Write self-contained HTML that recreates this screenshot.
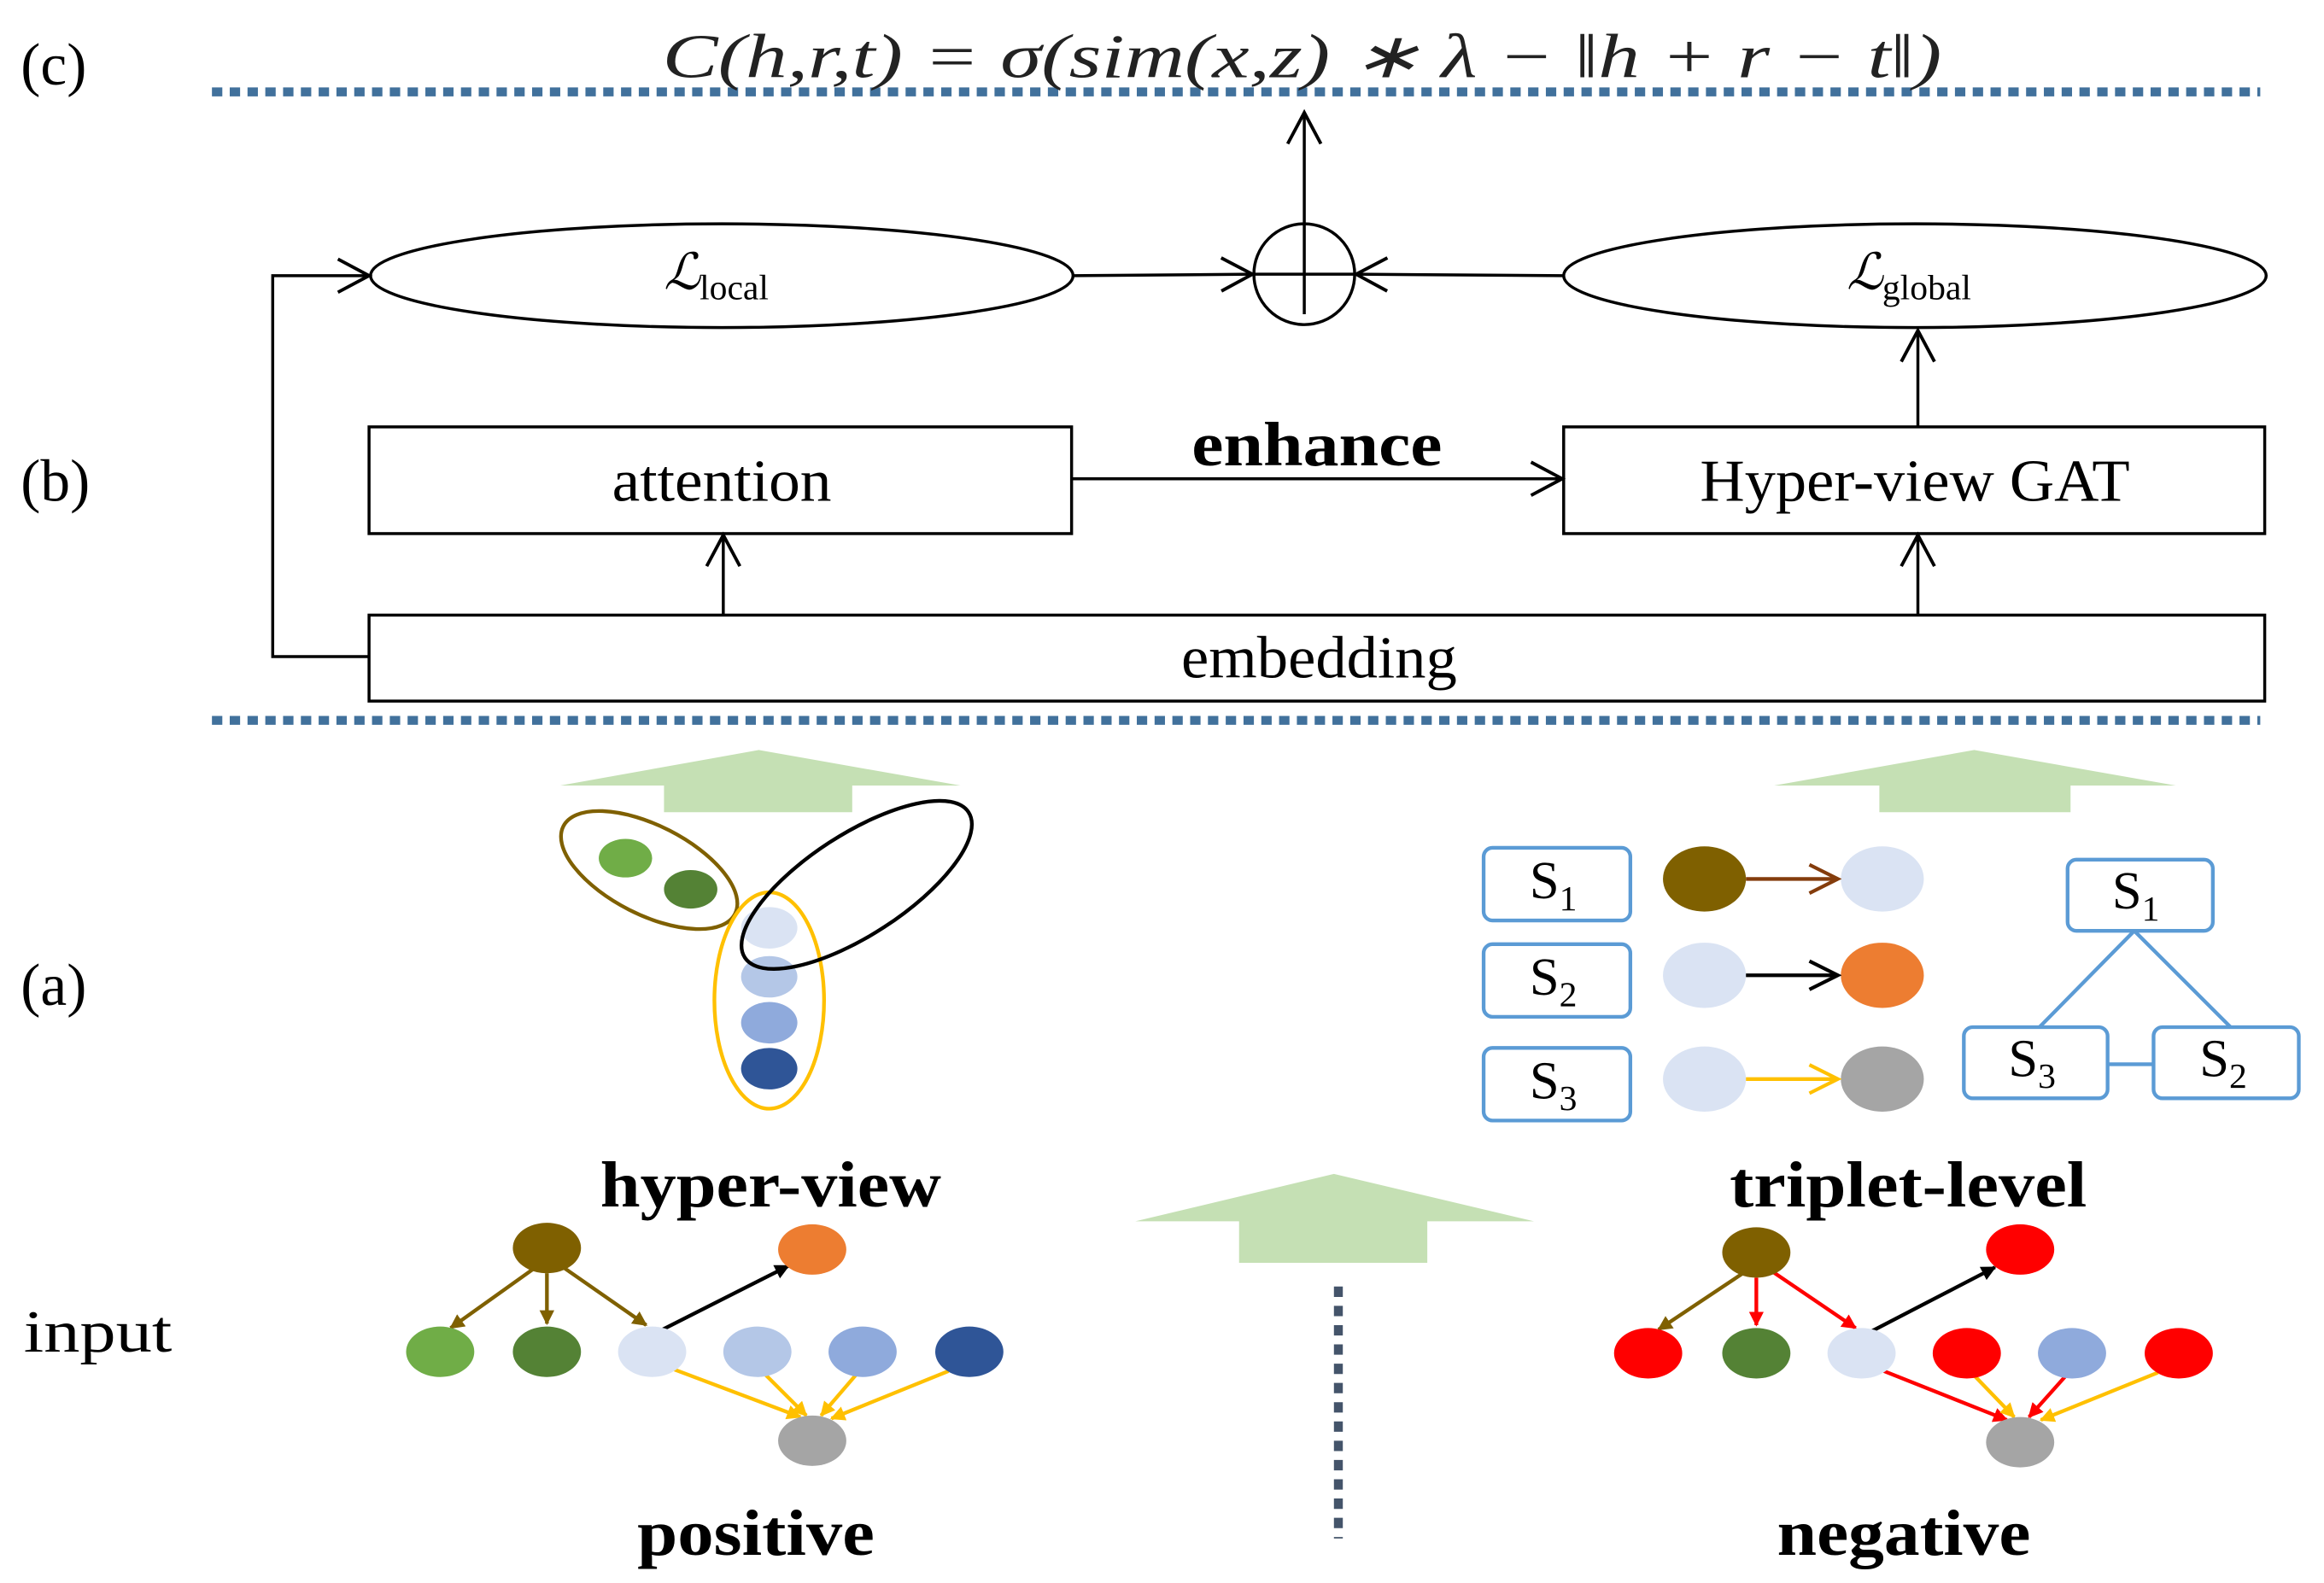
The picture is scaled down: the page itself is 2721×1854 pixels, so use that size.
<!DOCTYPE html>
<html><head><meta charset="utf-8"><style>
html,body{margin:0;padding:0;background:#fff;}
svg{display:block;}
text{font-family:"Liberation Serif",serif;}
</style></head><body>
<svg width="2721" height="1854" viewBox="0 0 1568 1068" preserveAspectRatio="none" xmlns="http://www.w3.org/2000/svg">
<defs>
<marker id="ak" viewBox="0 0 20 20" refX="18" refY="10" markerWidth="28" markerHeight="28" markerUnits="userSpaceOnUse" orient="auto"><path d="M3,2 L18,10 L3,18" fill="none" stroke="#000" stroke-width="1.6"/></marker>
<marker id="smb" viewBox="0 0 10 10" refX="9" refY="5" markerWidth="10" markerHeight="10" markerUnits="userSpaceOnUse" orient="auto"><path d="M0,0 L10,5 L0,10 z" fill="#000"/></marker>
<marker id="smbr" viewBox="0 0 10 10" refX="9" refY="5" markerWidth="10" markerHeight="10" markerUnits="userSpaceOnUse" orient="auto"><path d="M0,0 L10,5 L0,10 z" fill="#7f6000"/></marker>
<marker id="smy" viewBox="0 0 10 10" refX="9" refY="5" markerWidth="10" markerHeight="10" markerUnits="userSpaceOnUse" orient="auto"><path d="M0,0 L10,5 L0,10 z" fill="#ffc000"/></marker>
<marker id="smr" viewBox="0 0 10 10" refX="9" refY="5" markerWidth="10" markerHeight="10" markerUnits="userSpaceOnUse" orient="auto"><path d="M0,0 L10,5 L0,10 z" fill="#ff0000"/></marker>
<marker id="tb" viewBox="0 0 20 20" refX="18" refY="10" markerWidth="24" markerHeight="24" markerUnits="userSpaceOnUse" orient="auto"><path d="M2,2 L18,10 L2,18" fill="none" stroke="#000" stroke-width="2"/></marker>
<marker id="tbr" viewBox="0 0 20 20" refX="18" refY="10" markerWidth="24" markerHeight="24" markerUnits="userSpaceOnUse" orient="auto"><path d="M2,2 L18,10 L2,18" fill="none" stroke="#843c0c" stroke-width="2"/></marker>
<marker id="ty" viewBox="0 0 20 20" refX="18" refY="10" markerWidth="24" markerHeight="24" markerUnits="userSpaceOnUse" orient="auto"><path d="M2,2 L18,10 L2,18" fill="none" stroke="#ffc000" stroke-width="2"/></marker>
</defs>

<line x1="143" y1="62" x2="1525" y2="62" stroke="#41719c" stroke-width="6" stroke-dasharray="7,5"/>
<line x1="143" y1="486" x2="1525" y2="486" stroke="#41719c" stroke-width="6" stroke-dasharray="7,5"/>

<text x="14" y="57" font-size="40">(c)</text>
<text x="14" y="338" font-size="40">(b)</text>
<text x="14" y="678" font-size="40">(a)</text>
<text x="16" y="912" font-size="40" textLength="100" lengthAdjust="spacingAndGlyphs">input</text>

<text x="447" y="52" font-size="42" font-style="italic" fill="#222" textLength="863" lengthAdjust="spacingAndGlyphs">C(h,r,t) = σ(sim(x,z) ∗ λ − ‖h + r − t‖)</text>

<ellipse cx="487" cy="186" rx="237" ry="35" fill="#fff" stroke="#000" stroke-width="2"/>
<text x="448" y="195" font-size="34" font-style="italic">ℒ</text><text x="472" y="202" font-size="24">local</text>
<ellipse cx="1292" cy="186" rx="237" ry="35" fill="#fff" stroke="#000" stroke-width="2"/>
<text x="1246" y="195" font-size="34" font-style="italic">ℒ</text><text x="1270" y="202" font-size="24">global</text>
<circle cx="880" cy="185" r="34" fill="#fff" stroke="#000" stroke-width="2"/>
<line x1="846" y1="185" x2="914" y2="185" stroke="#000" stroke-width="2"/>
<line x1="880" y1="151" x2="880" y2="212" stroke="#000" stroke-width="2"/>
<line x1="880" y1="151" x2="880" y2="76" stroke="#000" stroke-width="2" marker-end="url(#ak)"/>
<line x1="724" y1="186" x2="845" y2="185" stroke="#000" stroke-width="2" marker-end="url(#ak)"/>
<line x1="1055" y1="186" x2="915" y2="185" stroke="#000" stroke-width="2" marker-end="url(#ak)"/>

<rect x="249" y="288" width="474" height="72" fill="#fff" stroke="#000" stroke-width="2"/>
<text x="413" y="338" font-size="40" textLength="148" lengthAdjust="spacingAndGlyphs">attention</text>
<rect x="1055" y="288" width="473" height="72" fill="#fff" stroke="#000" stroke-width="2"/>
<text x="1147" y="338" font-size="40" textLength="290" lengthAdjust="spacingAndGlyphs">Hyper-view GAT</text>
<rect x="249" y="415" width="1279" height="58" fill="#fff" stroke="#000" stroke-width="2"/>
<text x="797" y="457" font-size="40" textLength="186" lengthAdjust="spacingAndGlyphs">embedding</text>
<line x1="723" y1="323" x2="1054" y2="323" stroke="#000" stroke-width="2" marker-end="url(#ak)"/>
<text x="804" y="314" font-size="42" font-weight="bold" textLength="169" lengthAdjust="spacingAndGlyphs">enhance</text>
<line x1="488" y1="415" x2="488" y2="361" stroke="#000" stroke-width="2" marker-end="url(#ak)"/>
<line x1="1294" y1="415" x2="1294" y2="361" stroke="#000" stroke-width="2" marker-end="url(#ak)"/>
<line x1="1294" y1="288" x2="1294" y2="223" stroke="#000" stroke-width="2" marker-end="url(#ak)"/>
<polyline points="249,443 184,443 184,186 249,186" fill="none" stroke="#000" stroke-width="2" marker-end="url(#ak)"/>

<polygon points="378,530 512,506 648,530 575,530 575,548 448,548 448,530" fill="#c5e0b4"/>
<polygon points="1197,530 1332,506 1468,530 1397,530 1397,548 1268,548 1268,530" fill="#c5e0b4"/>
<polygon points="766,824 900,792 1035,824 963,824 963,852 836,852 836,824" fill="#c5e0b4"/>
<line x1="903" y1="868" x2="903" y2="1038" stroke="#44546a" stroke-width="6" stroke-dasharray="7,6"/>

<ellipse cx="438" cy="587" rx="65" ry="30" transform="rotate(27 438 587)" fill="none" stroke="#7f6000" stroke-width="2.5"/>
<ellipse cx="422" cy="579" rx="18" ry="13" fill="#70ad47"/>
<ellipse cx="466" cy="600" rx="18" ry="13" fill="#548235"/>
<ellipse cx="519" cy="675" rx="37" ry="73" fill="none" stroke="#ffc000" stroke-width="2.5"/>
<ellipse cx="519" cy="626" rx="19" ry="14" fill="#dae3f3"/>
<ellipse cx="519" cy="659" rx="19" ry="14" fill="#b4c7e7"/>
<ellipse cx="519" cy="690" rx="19" ry="14" fill="#8faadc"/>
<ellipse cx="519" cy="721" rx="19" ry="14" fill="#2f5597"/>
<ellipse cx="578" cy="597" rx="90" ry="34" transform="rotate(-33 578 597)" fill="none" stroke="#000" stroke-width="2.5"/>

<text x="405" y="814" font-size="44" font-weight="bold" textLength="230" lengthAdjust="spacingAndGlyphs">hyper-view</text>
<text x="1167" y="814" font-size="44" font-weight="bold" textLength="241" lengthAdjust="spacingAndGlyphs">triplet-level</text>
<text x="430" y="1049" font-size="44" font-weight="bold" textLength="160" lengthAdjust="spacingAndGlyphs">positive</text>
<text x="1199" y="1049" font-size="44" font-weight="bold" textLength="171" lengthAdjust="spacingAndGlyphs">negative</text>

<g fill="#fff" stroke="#5b9bd5" stroke-width="2.5">
<rect x="1001" y="572" width="99" height="49" rx="6"/>
<rect x="1001" y="637" width="99" height="49" rx="6"/>
<rect x="1001" y="707" width="99" height="49" rx="6"/>
<rect x="1395" y="580" width="98" height="48" rx="6"/>
<rect x="1325" y="693" width="97" height="48" rx="6"/>
<rect x="1453" y="693" width="98" height="48" rx="6"/>
</g>
<g stroke="#5b9bd5" stroke-width="2.5">
<line x1="1440" y1="628" x2="1376" y2="693"/>
<line x1="1440" y1="628" x2="1505" y2="693"/>
<line x1="1422" y1="718" x2="1453" y2="718"/>
</g>
<g font-size="36">
<text x="1032" y="606">S<tspan font-size="24" dy="8">1</tspan></text>
<text x="1032" y="671">S<tspan font-size="24" dy="8">2</tspan></text>
<text x="1032" y="741">S<tspan font-size="24" dy="8">3</tspan></text>
<text x="1425" y="613">S<tspan font-size="24" dy="8">1</tspan></text>
<text x="1355" y="726">S<tspan font-size="24" dy="8">3</tspan></text>
<text x="1484" y="726">S<tspan font-size="24" dy="8">2</tspan></text>
</g>
<ellipse cx="1150" cy="593" rx="28" ry="22" fill="#7f6000"/>
<ellipse cx="1270" cy="593" rx="28" ry="22" fill="#dae3f3"/>
<line x1="1178" y1="593" x2="1240" y2="593" stroke="#843c0c" stroke-width="2.5" marker-end="url(#tbr)"/>
<ellipse cx="1150" cy="658" rx="28" ry="22" fill="#dae3f3"/>
<ellipse cx="1270" cy="658" rx="28" ry="22" fill="#ed7d31"/>
<line x1="1178" y1="658" x2="1240" y2="658" stroke="#000" stroke-width="2.5" marker-end="url(#tb)"/>
<ellipse cx="1150" cy="728" rx="28" ry="22" fill="#dae3f3"/>
<ellipse cx="1270" cy="728" rx="28" ry="22" fill="#a5a5a5"/>
<line x1="1178" y1="728" x2="1240" y2="728" stroke="#ffc000" stroke-width="2.5" marker-end="url(#ty)"/>

<g stroke-width="2.5">
<line x1="360" y1="856" x2="304" y2="896" stroke="#7f6000" marker-end="url(#smbr)"/>
<line x1="369" y1="859" x2="369" y2="893" stroke="#7f6000" marker-end="url(#smbr)"/>
<line x1="380" y1="855" x2="436" y2="894" stroke="#7f6000" marker-end="url(#smbr)"/>
<line x1="447" y1="897" x2="532" y2="854" stroke="#000" marker-end="url(#smb)"/>
<line x1="455" y1="924" x2="540" y2="956" stroke="#ffc000" marker-end="url(#smy)"/>
<line x1="516" y1="927" x2="544" y2="955" stroke="#ffc000" marker-end="url(#smy)"/>
<line x1="578" y1="927" x2="554" y2="955" stroke="#ffc000" marker-end="url(#smy)"/>
<line x1="640" y1="925" x2="561" y2="957" stroke="#ffc000" marker-end="url(#smy)"/>
</g>
<ellipse cx="369" cy="842" rx="23" ry="17" fill="#7f6000"/>
<ellipse cx="548" cy="843" rx="23" ry="17" fill="#ed7d31"/>
<ellipse cx="297" cy="912" rx="23" ry="17" fill="#70ad47"/>
<ellipse cx="369" cy="912" rx="23" ry="17" fill="#548235"/>
<ellipse cx="440" cy="912" rx="23" ry="17" fill="#dae3f3"/>
<ellipse cx="511" cy="912" rx="23" ry="17" fill="#b4c7e7"/>
<ellipse cx="582" cy="912" rx="23" ry="17" fill="#8faadc"/>
<ellipse cx="654" cy="912" rx="23" ry="17" fill="#2f5597"/>
<ellipse cx="548" cy="972" rx="23" ry="17" fill="#a5a5a5"/>

<g stroke-width="2.5">
<line x1="1176" y1="859" x2="1119" y2="897" stroke="#7f6000" marker-end="url(#smbr)"/>
<line x1="1185" y1="862" x2="1185" y2="894" stroke="#ff0000" marker-end="url(#smr)"/>
<line x1="1196" y1="858" x2="1252" y2="896" stroke="#ff0000" marker-end="url(#smr)"/>
<line x1="1263" y1="898" x2="1346" y2="855" stroke="#000" marker-end="url(#smb)"/>
<line x1="1271" y1="925" x2="1354" y2="958" stroke="#ff0000" marker-end="url(#smr)"/>
<line x1="1332" y1="928" x2="1359" y2="956" stroke="#ffc000" marker-end="url(#smy)"/>
<line x1="1394" y1="928" x2="1369" y2="956" stroke="#ff0000" marker-end="url(#smr)"/>
<line x1="1456" y1="926" x2="1377" y2="958" stroke="#ffc000" marker-end="url(#smy)"/>
</g>
<ellipse cx="1185" cy="845" rx="23" ry="17" fill="#7f6000"/>
<ellipse cx="1363" cy="843" rx="23" ry="17" fill="#ff0000"/>
<ellipse cx="1112" cy="913" rx="23" ry="17" fill="#ff0000"/>
<ellipse cx="1185" cy="913" rx="23" ry="17" fill="#548235"/>
<ellipse cx="1256" cy="913" rx="23" ry="17" fill="#dae3f3"/>
<ellipse cx="1327" cy="913" rx="23" ry="17" fill="#ff0000"/>
<ellipse cx="1398" cy="913" rx="23" ry="17" fill="#8faadc"/>
<ellipse cx="1470" cy="913" rx="23" ry="17" fill="#ff0000"/>
<ellipse cx="1363" cy="973" rx="23" ry="17" fill="#a5a5a5"/>
</svg>
</body></html>
